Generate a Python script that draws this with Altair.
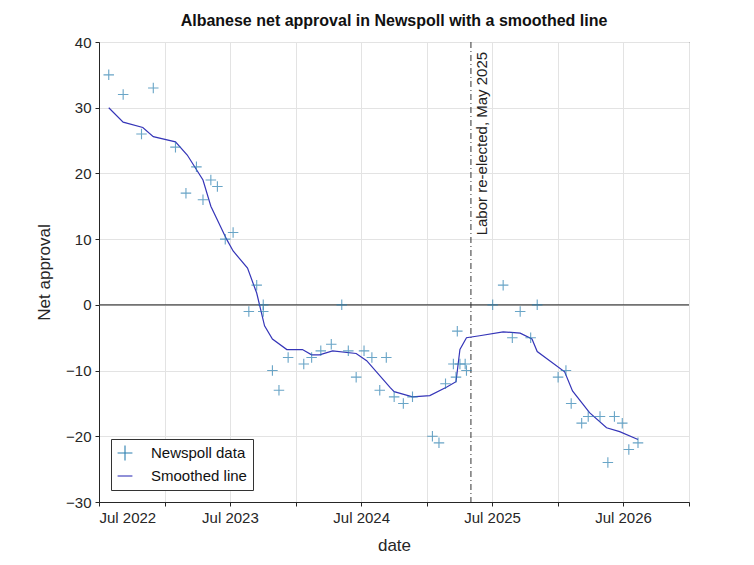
import altair as alt
import pandas as pd

# Newspoll net approval, x as decimal year
poll_year = [2022.57, 2022.68, 2022.82, 2022.91, 2023.08, 2023.16, 2023.24, 2023.29, 2023.35,
             2023.40, 2023.46, 2023.52, 2023.64, 2023.70, 2023.75, 2023.75, 2023.82, 2023.87,
             2023.94, 2024.06, 2024.12, 2024.19, 2024.27, 2024.35, 2024.40, 2024.46, 2024.52,
             2024.58, 2024.64, 2024.69, 2024.75, 2024.82, 2024.89, 2025.04, 2025.09, 2025.14,
             2025.20, 2025.22, 2025.23, 2025.25, 2025.29, 2025.30, 2025.50, 2025.58, 2025.65,
             2025.71, 2025.79, 2025.84, 2026.00, 2026.06, 2026.10, 2026.18, 2026.23, 2026.32,
             2026.38, 2026.43, 2026.49, 2026.54, 2026.61]
poll_value = [35, 32, 26, 33, 24, 17, 21, 16, 19,
              18, 10, 11, -1, 3, 0, -1, -10, -13,
              -8, -9, -8, -7, -6, 0, -7, -11, -7,
              -8, -13, -8, -14, -15, -14, -20, -21, -12,
              -9, -11, -4, -9, -9, -10, 0, 3, -5,
              -1, -5, 0, -11, -10, -15, -18, -17, -17,
              -24, -17, -18, -22, -21]

smooth_year = [2022.57, 2022.68, 2022.83, 2022.91, 2023.08, 2023.17, 2023.29, 2023.35, 2023.47,
               2023.52, 2023.63, 2023.70, 2023.76, 2023.82, 2023.93, 2024.05, 2024.12, 2024.18,
               2024.28, 2024.46, 2024.54, 2024.72, 2024.75, 2024.89, 2025.02, 2025.15, 2025.22,
               2025.25, 2025.30, 2025.40, 2025.58, 2025.71, 2025.80, 2025.84, 2026.05, 2026.11,
               2026.24, 2026.37, 2026.47, 2026.61]
smooth_value = [30, 27.8, 27, 25.6, 24.8, 22.8, 19, 15, 10,
                8.2, 5.6, 1.8, -3.2, -5.2, -6.8, -6.8, -7.6, -7.6,
                -7, -7.4, -8.5, -12.6, -13.2, -14, -13.8, -12.5, -11.7,
                -6.8, -5, -4.7, -4.1, -4.3, -5.2, -7.1, -10.2, -13.1,
                -16.4, -18.7, -19.3, -20.5]

election_date = "2025-05-03"
election_label = "Labor re-elected, May 2025"
tick_dates = ["2022-07-01", "2023-01-01", "2023-07-01", "2024-01-01", "2024-07-01",
              "2025-01-01", "2025-07-01", "2026-01-01", "2026-07-01", "2027-01-01"]


def to_date(years):
    out = []
    for y in years:
        base = pd.Timestamp(year=int(y), month=1, day=1)
        d = base + pd.Timedelta(days=(y - int(y)) * 365.25)
        out.append(d.strftime("%Y-%m-%dT%H:%M:%SZ"))
    return out


FONT = "Liberation Sans"
NAMES = ["Newspoll data", "Smoothed line"]

polls = pd.DataFrame({"date": to_date(poll_year), "value": poll_value, "series": NAMES[0]})
smooth = pd.DataFrame({"date": to_date(smooth_year), "value": smooth_value, "series": NAMES[1]})

x_enc = alt.X(
    "date:T", title="date",
    scale=alt.Scale(type="utc", domain=["2022-07-01", "2027-01-01"]),
    axis=alt.Axis(
        values=tick_dates,
        labelExpr="utcmonth(datum.value) == 6 ? utcFormat(datum.value, '%b %Y') : ''",
        grid=True,
    ),
)
y_enc = alt.Y("value:Q", title="Net approval",
              scale=alt.Scale(domain=[-30, 40], nice=False),
              axis=alt.Axis(values=list(range(-30, 41, 10))))

color = alt.Color("series:N", scale=alt.Scale(domain=NAMES, range=["#2a7fb0", "#3535b8"]),
                  legend=alt.Legend(title=None, orient="bottom-left", offset=12,
                                    strokeColor="#333333", fillColor="white",
                                    padding=6, labelFontSize=15, symbolSize=220,
                                    labelFont=FONT, rowPadding=5, symbolStrokeWidth=1.1,
                                    labelOffset=18, labelColor="#111111"))
shape = alt.Shape("series:N", scale=alt.Scale(domain=NAMES,
                  range=["M-1,0L1,0M0,-1L0,1", "stroke"]), legend=alt.Legend(title=None))

points = alt.Chart(polls).mark_point(filled=False, size=110, strokeWidth=1.1).encode(
    x=x_enc, y=y_enc, color=color, shape=shape,
)
line = alt.Chart(smooth).mark_line(strokeWidth=1.2).encode(
    x="date:T", y="value:Q", color=color, shape=shape,
)

zero = alt.Chart(pd.DataFrame({"value": [0]})).mark_rule(color="#444444", strokeWidth=1.2).encode(y="value:Q")
elect = alt.Chart(pd.DataFrame({"date": [election_date]})).mark_rule(
    color="#333333", strokeWidth=1, strokeDash=[6, 3, 1, 3]
).encode(x="date:T")
elect_text = alt.Chart(pd.DataFrame({"date": [election_date], "value": [38.5], "t": [election_label]})).mark_text(
    angle=270, align="right", baseline="top", dy=4, fontSize=15, font=FONT, color="#222222"
).encode(x="date:T", y="value:Q", text="t:N")

chart = (zero + elect + line + points + elect_text).properties(
    width=590, height=460,
    title=alt.Title("Albanese net approval in Newspoll with a smoothed line",
                    fontSize=16, font=FONT, fontWeight="bold", color="#111111", offset=6),
    autosize=alt.AutoSizeParams(type="none"),
    padding={"left": 91, "top": 34, "right": 10, "bottom": 55},
).configure_axis(
    labelFont=FONT, titleFont=FONT, labelFontSize=15, titleFontSize=17,
    titleFontWeight="normal", labelColor="#262626", titleColor="#262626",
    domainColor="#262626", tickColor="#262626", gridColor="#e3e3e3",
    tickSize=4, labelPadding=4,
).configure_axisX(titlePadding=12).configure_axisY(titlePadding=12).configure_view(
    stroke="#262626", strokeWidth=1
)

chart.save("out.html", embed_options={"renderer": "svg", "actions": False})
